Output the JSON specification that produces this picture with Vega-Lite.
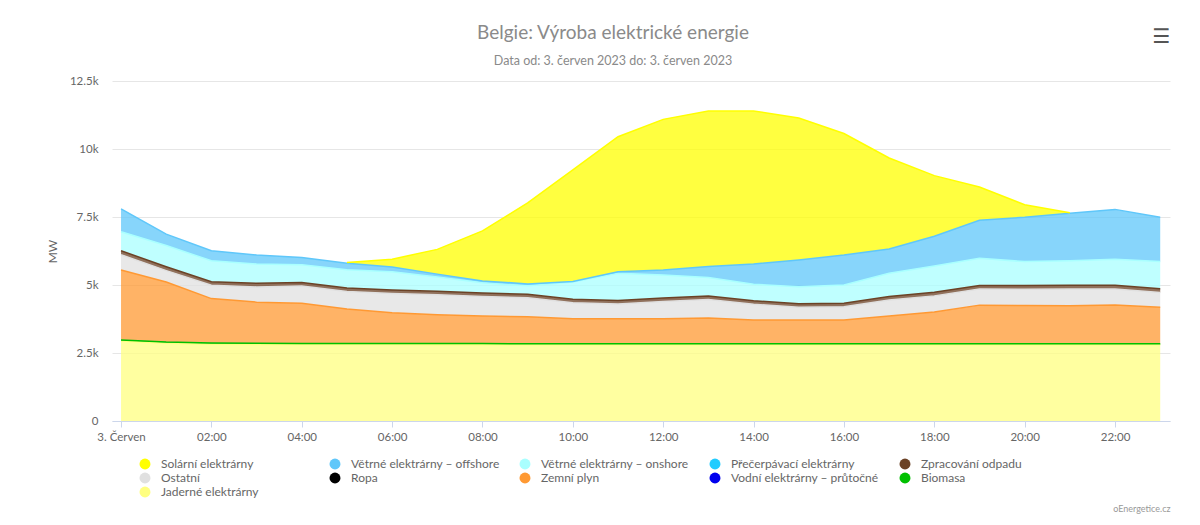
{
  "$schema": "https://vega.github.io/schema/vega-lite/v6.json",
  "width": 1058,
  "height": 340,
  "autosize": {"type": "none"},
  "padding": {"left": 112, "top": 81, "right": 30, "bottom": 104},
  "background": "#ffffff",
  "config": {"view": {"stroke": null}},
  "title": {
    "text": "Belgie: Výroba elektrické energie",
    "subtitle": "Data od: 3. červen 2023 do: 3. červen 2023",
    "anchor": "middle",
    "dx": -28,
    "offset": -41,
    "font": "Lato",
    "fontSize": 19,
    "fontWeight": "normal",
    "color": "#8a8a8a",
    "subtitleFont": "Lato",
    "subtitleFontSize": 12.5,
    "subtitleColor": "#8a8a8a",
    "subtitlePadding": 12
  },
  "datasets": {
    "zdroje": [
      {"zdroj": "Jaderné elektrárny", "poradi": 1},
      {"zdroj": "Biomasa", "poradi": 2},
      {"zdroj": "Vodní elektrárny – průtočné", "poradi": 3},
      {"zdroj": "Zemní plyn", "poradi": 4},
      {"zdroj": "Ropa", "poradi": 5},
      {"zdroj": "Ostatní", "poradi": 6},
      {"zdroj": "Zpracování odpadu", "poradi": 7},
      {"zdroj": "Přečerpávací elektrárny", "poradi": 8},
      {"zdroj": "Větrné elektrárny – onshore", "poradi": 9},
      {"zdroj": "Větrné elektrárny – offshore", "poradi": 10},
      {"zdroj": "Solární elektrárny", "poradi": 11}
    ],
    "vyroba": [
      {"cas": "2023-06-03T00:00", "zdroj": "Jaderné elektrárny", "mw": 2940},
      {"cas": "2023-06-03T00:00", "zdroj": "Biomasa", "mw": 40},
      {"cas": "2023-06-03T00:00", "zdroj": "Zemní plyn", "mw": 2570},
      {"cas": "2023-06-03T00:00", "zdroj": "Ostatní", "mw": 560},
      {"cas": "2023-06-03T00:00", "zdroj": "Zpracování odpadu", "mw": 150},
      {"cas": "2023-06-03T00:00", "zdroj": "Větrné elektrárny – onshore", "mw": 700},
      {"cas": "2023-06-03T00:00", "zdroj": "Větrné elektrárny – offshore", "mw": 840},
      {"cas": "2023-06-03T01:00", "zdroj": "Jaderné elektrárny", "mw": 2860},
      {"cas": "2023-06-03T01:00", "zdroj": "Biomasa", "mw": 40},
      {"cas": "2023-06-03T01:00", "zdroj": "Zemní plyn", "mw": 2210},
      {"cas": "2023-06-03T01:00", "zdroj": "Ostatní", "mw": 420},
      {"cas": "2023-06-03T01:00", "zdroj": "Zpracování odpadu", "mw": 140},
      {"cas": "2023-06-03T01:00", "zdroj": "Větrné elektrárny – onshore", "mw": 780},
      {"cas": "2023-06-03T01:00", "zdroj": "Větrné elektrárny – offshore", "mw": 420},
      {"cas": "2023-06-03T02:00", "zdroj": "Jaderné elektrárny", "mw": 2825},
      {"cas": "2023-06-03T02:00", "zdroj": "Biomasa", "mw": 40},
      {"cas": "2023-06-03T02:00", "zdroj": "Zemní plyn", "mw": 1635},
      {"cas": "2023-06-03T02:00", "zdroj": "Ostatní", "mw": 490},
      {"cas": "2023-06-03T02:00", "zdroj": "Zpracování odpadu", "mw": 130},
      {"cas": "2023-06-03T02:00", "zdroj": "Větrné elektrárny – onshore", "mw": 770},
      {"cas": "2023-06-03T02:00", "zdroj": "Větrné elektrárny – offshore", "mw": 370},
      {"cas": "2023-06-03T03:00", "zdroj": "Jaderné elektrárny", "mw": 2815},
      {"cas": "2023-06-03T03:00", "zdroj": "Biomasa", "mw": 40},
      {"cas": "2023-06-03T03:00", "zdroj": "Zemní plyn", "mw": 1515},
      {"cas": "2023-06-03T03:00", "zdroj": "Ostatní", "mw": 560},
      {"cas": "2023-06-03T03:00", "zdroj": "Zpracování odpadu", "mw": 130},
      {"cas": "2023-06-03T03:00", "zdroj": "Větrné elektrárny – onshore", "mw": 710},
      {"cas": "2023-06-03T03:00", "zdroj": "Větrné elektrárny – offshore", "mw": 330},
      {"cas": "2023-06-03T04:00", "zdroj": "Jaderné elektrárny", "mw": 2810},
      {"cas": "2023-06-03T04:00", "zdroj": "Biomasa", "mw": 40},
      {"cas": "2023-06-03T04:00", "zdroj": "Zemní plyn", "mw": 1480},
      {"cas": "2023-06-03T04:00", "zdroj": "Ostatní", "mw": 630},
      {"cas": "2023-06-03T04:00", "zdroj": "Zpracování odpadu", "mw": 130},
      {"cas": "2023-06-03T04:00", "zdroj": "Větrné elektrárny – onshore", "mw": 650},
      {"cas": "2023-06-03T04:00", "zdroj": "Větrné elektrárny – offshore", "mw": 270},
      {"cas": "2023-06-03T05:00", "zdroj": "Jaderné elektrárny", "mw": 2810},
      {"cas": "2023-06-03T05:00", "zdroj": "Biomasa", "mw": 40},
      {"cas": "2023-06-03T05:00", "zdroj": "Zemní plyn", "mw": 1270},
      {"cas": "2023-06-03T05:00", "zdroj": "Ostatní", "mw": 640},
      {"cas": "2023-06-03T05:00", "zdroj": "Zpracování odpadu", "mw": 130},
      {"cas": "2023-06-03T05:00", "zdroj": "Větrné elektrárny – onshore", "mw": 670},
      {"cas": "2023-06-03T05:00", "zdroj": "Větrné elektrárny – offshore", "mw": 240},
      {"cas": "2023-06-03T05:00", "zdroj": "Solární elektrárny", "mw": 30},
      {"cas": "2023-06-03T06:00", "zdroj": "Jaderné elektrárny", "mw": 2810},
      {"cas": "2023-06-03T06:00", "zdroj": "Biomasa", "mw": 40},
      {"cas": "2023-06-03T06:00", "zdroj": "Zemní plyn", "mw": 1130},
      {"cas": "2023-06-03T06:00", "zdroj": "Ostatní", "mw": 710},
      {"cas": "2023-06-03T06:00", "zdroj": "Zpracování odpadu", "mw": 130},
      {"cas": "2023-06-03T06:00", "zdroj": "Větrné elektrárny – onshore", "mw": 670},
      {"cas": "2023-06-03T06:00", "zdroj": "Větrné elektrárny – offshore", "mw": 170},
      {"cas": "2023-06-03T06:00", "zdroj": "Solární elektrárny", "mw": 290},
      {"cas": "2023-06-03T07:00", "zdroj": "Jaderné elektrárny", "mw": 2805},
      {"cas": "2023-06-03T07:00", "zdroj": "Biomasa", "mw": 40},
      {"cas": "2023-06-03T07:00", "zdroj": "Zemní plyn", "mw": 1065},
      {"cas": "2023-06-03T07:00", "zdroj": "Ostatní", "mw": 730},
      {"cas": "2023-06-03T07:00", "zdroj": "Zpracování odpadu", "mw": 130},
      {"cas": "2023-06-03T07:00", "zdroj": "Větrné elektrárny – onshore", "mw": 520},
      {"cas": "2023-06-03T07:00", "zdroj": "Větrné elektrárny – offshore", "mw": 110},
      {"cas": "2023-06-03T07:00", "zdroj": "Solární elektrárny", "mw": 910},
      {"cas": "2023-06-03T08:00", "zdroj": "Jaderné elektrárny", "mw": 2805},
      {"cas": "2023-06-03T08:00", "zdroj": "Biomasa", "mw": 40},
      {"cas": "2023-06-03T08:00", "zdroj": "Zemní plyn", "mw": 1015},
      {"cas": "2023-06-03T08:00", "zdroj": "Ostatní", "mw": 720},
      {"cas": "2023-06-03T08:00", "zdroj": "Zpracování odpadu", "mw": 130},
      {"cas": "2023-06-03T08:00", "zdroj": "Větrné elektrárny – onshore", "mw": 370},
      {"cas": "2023-06-03T08:00", "zdroj": "Větrné elektrárny – offshore", "mw": 70},
      {"cas": "2023-06-03T08:00", "zdroj": "Solární elektrárny", "mw": 1840},
      {"cas": "2023-06-03T09:00", "zdroj": "Jaderné elektrárny", "mw": 2800},
      {"cas": "2023-06-03T09:00", "zdroj": "Biomasa", "mw": 40},
      {"cas": "2023-06-03T09:00", "zdroj": "Zemní plyn", "mw": 990},
      {"cas": "2023-06-03T09:00", "zdroj": "Ostatní", "mw": 700},
      {"cas": "2023-06-03T09:00", "zdroj": "Zpracování odpadu", "mw": 130},
      {"cas": "2023-06-03T09:00", "zdroj": "Větrné elektrárny – onshore", "mw": 310},
      {"cas": "2023-06-03T09:00", "zdroj": "Větrné elektrárny – offshore", "mw": 70},
      {"cas": "2023-06-03T09:00", "zdroj": "Solární elektrárny", "mw": 2980},
      {"cas": "2023-06-03T10:00", "zdroj": "Jaderné elektrárny", "mw": 2800},
      {"cas": "2023-06-03T10:00", "zdroj": "Biomasa", "mw": 40},
      {"cas": "2023-06-03T10:00", "zdroj": "Zemní plyn", "mw": 920},
      {"cas": "2023-06-03T10:00", "zdroj": "Ostatní", "mw": 590},
      {"cas": "2023-06-03T10:00", "zdroj": "Zpracování odpadu", "mw": 130},
      {"cas": "2023-06-03T10:00", "zdroj": "Větrné elektrárny – onshore", "mw": 630},
      {"cas": "2023-06-03T10:00", "zdroj": "Větrné elektrárny – offshore", "mw": 20},
      {"cas": "2023-06-03T10:00", "zdroj": "Solární elektrárny", "mw": 4100},
      {"cas": "2023-06-03T11:00", "zdroj": "Jaderné elektrárny", "mw": 2800},
      {"cas": "2023-06-03T11:00", "zdroj": "Biomasa", "mw": 40},
      {"cas": "2023-06-03T11:00", "zdroj": "Zemní plyn", "mw": 920},
      {"cas": "2023-06-03T11:00", "zdroj": "Ostatní", "mw": 540},
      {"cas": "2023-06-03T11:00", "zdroj": "Zpracování odpadu", "mw": 130},
      {"cas": "2023-06-03T11:00", "zdroj": "Větrné elektrárny – onshore", "mw": 1000},
      {"cas": "2023-06-03T11:00", "zdroj": "Větrné elektrárny – offshore", "mw": 60},
      {"cas": "2023-06-03T11:00", "zdroj": "Solární elektrárny", "mw": 4960},
      {"cas": "2023-06-03T12:00", "zdroj": "Jaderné elektrárny", "mw": 2800},
      {"cas": "2023-06-03T12:00", "zdroj": "Biomasa", "mw": 40},
      {"cas": "2023-06-03T12:00", "zdroj": "Zemní plyn", "mw": 920},
      {"cas": "2023-06-03T12:00", "zdroj": "Ostatní", "mw": 630},
      {"cas": "2023-06-03T12:00", "zdroj": "Zpracování odpadu", "mw": 130},
      {"cas": "2023-06-03T12:00", "zdroj": "Větrné elektrárny – onshore", "mw": 850},
      {"cas": "2023-06-03T12:00", "zdroj": "Větrné elektrárny – offshore", "mw": 180},
      {"cas": "2023-06-03T12:00", "zdroj": "Solární elektrárny", "mw": 5540},
      {"cas": "2023-06-03T13:00", "zdroj": "Jaderné elektrárny", "mw": 2800},
      {"cas": "2023-06-03T13:00", "zdroj": "Biomasa", "mw": 40},
      {"cas": "2023-06-03T13:00", "zdroj": "Zemní plyn", "mw": 950},
      {"cas": "2023-06-03T13:00", "zdroj": "Ostatní", "mw": 680},
      {"cas": "2023-06-03T13:00", "zdroj": "Zpracování odpadu", "mw": 130},
      {"cas": "2023-06-03T13:00", "zdroj": "Větrné elektrárny – onshore", "mw": 680},
      {"cas": "2023-06-03T13:00", "zdroj": "Větrné elektrárny – offshore", "mw": 400},
      {"cas": "2023-06-03T13:00", "zdroj": "Solární elektrárny", "mw": 5720},
      {"cas": "2023-06-03T14:00", "zdroj": "Jaderné elektrárny", "mw": 2800},
      {"cas": "2023-06-03T14:00", "zdroj": "Biomasa", "mw": 40},
      {"cas": "2023-06-03T14:00", "zdroj": "Zemní plyn", "mw": 870},
      {"cas": "2023-06-03T14:00", "zdroj": "Ostatní", "mw": 580},
      {"cas": "2023-06-03T14:00", "zdroj": "Zpracování odpadu", "mw": 130},
      {"cas": "2023-06-03T14:00", "zdroj": "Větrné elektrárny – onshore", "mw": 610},
      {"cas": "2023-06-03T14:00", "zdroj": "Větrné elektrárny – offshore", "mw": 740},
      {"cas": "2023-06-03T14:00", "zdroj": "Solární elektrárny", "mw": 5630},
      {"cas": "2023-06-03T15:00", "zdroj": "Jaderné elektrárny", "mw": 2800},
      {"cas": "2023-06-03T15:00", "zdroj": "Biomasa", "mw": 40},
      {"cas": "2023-06-03T15:00", "zdroj": "Zemní plyn", "mw": 870},
      {"cas": "2023-06-03T15:00", "zdroj": "Ostatní", "mw": 470},
      {"cas": "2023-06-03T15:00", "zdroj": "Zpracování odpadu", "mw": 130},
      {"cas": "2023-06-03T15:00", "zdroj": "Větrné elektrárny – onshore", "mw": 630},
      {"cas": "2023-06-03T15:00", "zdroj": "Větrné elektrárny – offshore", "mw": 980},
      {"cas": "2023-06-03T15:00", "zdroj": "Solární elektrárny", "mw": 5220},
      {"cas": "2023-06-03T16:00", "zdroj": "Jaderné elektrárny", "mw": 2800},
      {"cas": "2023-06-03T16:00", "zdroj": "Biomasa", "mw": 40},
      {"cas": "2023-06-03T16:00", "zdroj": "Zemní plyn", "mw": 870},
      {"cas": "2023-06-03T16:00", "zdroj": "Ostatní", "mw": 490},
      {"cas": "2023-06-03T16:00", "zdroj": "Zpracování odpadu", "mw": 130},
      {"cas": "2023-06-03T16:00", "zdroj": "Větrné elektrárny – onshore", "mw": 670},
      {"cas": "2023-06-03T16:00", "zdroj": "Větrné elektrárny – offshore", "mw": 1100},
      {"cas": "2023-06-03T16:00", "zdroj": "Solární elektrárny", "mw": 4470},
      {"cas": "2023-06-03T17:00", "zdroj": "Jaderné elektrárny", "mw": 2800},
      {"cas": "2023-06-03T17:00", "zdroj": "Biomasa", "mw": 40},
      {"cas": "2023-06-03T17:00", "zdroj": "Zemní plyn", "mw": 1020},
      {"cas": "2023-06-03T17:00", "zdroj": "Ostatní", "mw": 590},
      {"cas": "2023-06-03T17:00", "zdroj": "Zpracování odpadu", "mw": 130},
      {"cas": "2023-06-03T17:00", "zdroj": "Větrné elektrárny – onshore", "mw": 850},
      {"cas": "2023-06-03T17:00", "zdroj": "Větrné elektrárny – offshore", "mw": 890},
      {"cas": "2023-06-03T17:00", "zdroj": "Solární elektrárny", "mw": 3350},
      {"cas": "2023-06-03T18:00", "zdroj": "Jaderné elektrárny", "mw": 2800},
      {"cas": "2023-06-03T18:00", "zdroj": "Biomasa", "mw": 40},
      {"cas": "2023-06-03T18:00", "zdroj": "Zemní plyn", "mw": 1170},
      {"cas": "2023-06-03T18:00", "zdroj": "Ostatní", "mw": 590},
      {"cas": "2023-06-03T18:00", "zdroj": "Zpracování odpadu", "mw": 130},
      {"cas": "2023-06-03T18:00", "zdroj": "Větrné elektrárny – onshore", "mw": 970},
      {"cas": "2023-06-03T18:00", "zdroj": "Větrné elektrárny – offshore", "mw": 1090},
      {"cas": "2023-06-03T18:00", "zdroj": "Solární elektrárny", "mw": 2230},
      {"cas": "2023-06-03T19:00", "zdroj": "Jaderné elektrárny", "mw": 2800},
      {"cas": "2023-06-03T19:00", "zdroj": "Biomasa", "mw": 40},
      {"cas": "2023-06-03T19:00", "zdroj": "Zemní plyn", "mw": 1420},
      {"cas": "2023-06-03T19:00", "zdroj": "Ostatní", "mw": 590},
      {"cas": "2023-06-03T19:00", "zdroj": "Zpracování odpadu", "mw": 130},
      {"cas": "2023-06-03T19:00", "zdroj": "Větrné elektrárny – onshore", "mw": 1000},
      {"cas": "2023-06-03T19:00", "zdroj": "Větrné elektrárny – offshore", "mw": 1400},
      {"cas": "2023-06-03T19:00", "zdroj": "Solární elektrárny", "mw": 1220},
      {"cas": "2023-06-03T20:00", "zdroj": "Jaderné elektrárny", "mw": 2800},
      {"cas": "2023-06-03T20:00", "zdroj": "Biomasa", "mw": 40},
      {"cas": "2023-06-03T20:00", "zdroj": "Zemní plyn", "mw": 1405},
      {"cas": "2023-06-03T20:00", "zdroj": "Ostatní", "mw": 600},
      {"cas": "2023-06-03T20:00", "zdroj": "Zpracování odpadu", "mw": 140},
      {"cas": "2023-06-03T20:00", "zdroj": "Větrné elektrárny – onshore", "mw": 875},
      {"cas": "2023-06-03T20:00", "zdroj": "Větrné elektrárny – offshore", "mw": 1630},
      {"cas": "2023-06-03T20:00", "zdroj": "Solární elektrárny", "mw": 460},
      {"cas": "2023-06-03T21:00", "zdroj": "Jaderné elektrárny", "mw": 2800},
      {"cas": "2023-06-03T21:00", "zdroj": "Biomasa", "mw": 40},
      {"cas": "2023-06-03T21:00", "zdroj": "Zemní plyn", "mw": 1400},
      {"cas": "2023-06-03T21:00", "zdroj": "Ostatní", "mw": 610},
      {"cas": "2023-06-03T21:00", "zdroj": "Zpracování odpadu", "mw": 140},
      {"cas": "2023-06-03T21:00", "zdroj": "Větrné elektrárny – onshore", "mw": 900},
      {"cas": "2023-06-03T21:00", "zdroj": "Větrné elektrárny – offshore", "mw": 1750},
      {"cas": "2023-06-03T21:00", "zdroj": "Solární elektrárny", "mw": 20},
      {"cas": "2023-06-03T22:00", "zdroj": "Jaderné elektrárny", "mw": 2800},
      {"cas": "2023-06-03T22:00", "zdroj": "Biomasa", "mw": 40},
      {"cas": "2023-06-03T22:00", "zdroj": "Zemní plyn", "mw": 1425},
      {"cas": "2023-06-03T22:00", "zdroj": "Ostatní", "mw": 585},
      {"cas": "2023-06-03T22:00", "zdroj": "Zpracování odpadu", "mw": 140},
      {"cas": "2023-06-03T22:00", "zdroj": "Větrné elektrárny – onshore", "mw": 955},
      {"cas": "2023-06-03T22:00", "zdroj": "Větrné elektrárny – offshore", "mw": 1835},
      {"cas": "2023-06-03T23:00", "zdroj": "Jaderné elektrárny", "mw": 2800},
      {"cas": "2023-06-03T23:00", "zdroj": "Biomasa", "mw": 40},
      {"cas": "2023-06-03T23:00", "zdroj": "Zemní plyn", "mw": 1340},
      {"cas": "2023-06-03T23:00", "zdroj": "Ostatní", "mw": 540},
      {"cas": "2023-06-03T23:00", "zdroj": "Zpracování odpadu", "mw": 140},
      {"cas": "2023-06-03T23:00", "zdroj": "Větrné elektrárny – onshore", "mw": 1000},
      {"cas": "2023-06-03T23:00", "zdroj": "Větrné elektrárny – offshore", "mw": 1630}
    ]
  },
  "data": {"name": "vyroba"},
  "transform": [
    {"lookup": "zdroj", "from": {"data": {"name": "zdroje"}, "key": "zdroj", "fields": ["poradi"]}},
    {"stack": "mw", "groupby": ["cas"], "sort": [{"field": "poradi", "order": "ascending"}], "as": ["y0", "y1"]}
  ],
  "resolve": {"axis": {"x": "independent"}},
  "layer": [
    {
      "mark": {"type": "area", "fillOpacity": 0.75, "interpolate": "linear"},
      "encoding": {
        "x": {
          "field": "cas",
          "type": "temporal",
          "scale": {
            "domain": [
              {"year": 2023, "month": 6, "date": 2, "hours": 23, "minutes": 48},
              {"year": 2023, "month": 6, "date": 3, "hours": 23, "minutes": 13}
            ]
          },
          "axis": {
            "title": "oEnergetice.cz",
            "titleAnchor": "end",
            "titleFont": "Lato",
            "titleFontSize": 9,
            "titleFontWeight": "normal",
            "titleColor": "#999999",
            "titlePadding": 62,
            "values": [
              {"year": 2023, "month": 6, "date": 3, "hours": 0},
              {"year": 2023, "month": 6, "date": 3, "hours": 2},
              {"year": 2023, "month": 6, "date": 3, "hours": 4},
              {"year": 2023, "month": 6, "date": 3, "hours": 6},
              {"year": 2023, "month": 6, "date": 3, "hours": 8},
              {"year": 2023, "month": 6, "date": 3, "hours": 10},
              {"year": 2023, "month": 6, "date": 3, "hours": 12},
              {"year": 2023, "month": 6, "date": 3, "hours": 14},
              {"year": 2023, "month": 6, "date": 3, "hours": 16},
              {"year": 2023, "month": 6, "date": 3, "hours": 18},
              {"year": 2023, "month": 6, "date": 3, "hours": 20},
              {"year": 2023, "month": 6, "date": 3, "hours": 22}
            ],
            "format": "%H:%M",
            "labelExpr": "datum.label == '00:00' ? '3. Červen' : datum.label",
            "grid": false,
            "domainColor": "#ccd6eb",
            "tickColor": "#ccd6eb",
            "tickSize": 6,
            "labelColor": "#666666",
            "labelFont": "Lato",
            "labelFontSize": 11.5,
            "labelPadding": 4,
            "labelFlush": false,
            "labelOverlap": false
          }
        },
        "y": {
          "field": "y1",
          "type": "quantitative",
          "scale": {"domain": [0, 12500], "nice": false},
          "axis": {
            "title": "MW",
            "values": [0, 2500, 5000, 7500, 10000, 12500],
            "labelExpr": "datum.value == 0 ? '0' : format(datum.value / 1000, '~g') + 'k'",
            "domain": false,
            "ticks": false,
            "gridColor": "#e6e6e6",
            "labelColor": "#666666",
            "labelFont": "Lato",
            "labelFontSize": 11.5,
            "labelPadding": 14,
            "titleColor": "#666666",
            "titleFont": "Lato",
            "titleFontSize": 12,
            "titleFontWeight": "normal",
            "titlePadding": 10
          }
        },
        "y2": {"field": "y0"},
        "color": {
          "field": "zdroj",
          "type": "nominal",
          "scale": {
            "domain": [
              "Solární elektrárny",
              "Větrné elektrárny – offshore",
              "Větrné elektrárny – onshore",
              "Přečerpávací elektrárny",
              "Zpracování odpadu",
              "Ostatní",
              "Ropa",
              "Zemní plyn",
              "Vodní elektrárny – průtočné",
              "Biomasa",
              "Jaderné elektrárny"
            ],
            "range": [
              "#ffff00",
              "#5fc7fa",
              "#a9ffff",
              "#22ccff",
              "#6b4226",
              "#e0e0e0",
              "#000000",
              "#ff9933",
              "#0000ee",
              "#00c000",
              "#ffff80"
            ]
          },
          "legend": {
            "title": null,
            "orient": "none",
            "legendX": 27,
            "legendY": 377,
            "direction": "horizontal",
            "columns": 5,
            "gridAlign": "all",
            "columnPadding": 19,
            "rowPadding": 2,
            "symbolType": "circle",
            "symbolSize": 120,
            "symbolOpacity": 1,
            "symbolStrokeWidth": 0,
            "labelFont": "Lato",
            "labelFontSize": 12,
            "labelColor": "#666666",
            "labelLimit": 260,
            "labelOffset": 10
          }
        }
      }
    },
    {
      "mark": {"type": "line", "strokeWidth": 1.5, "interpolate": "linear"},
      "encoding": {
        "x": {
          "field": "cas",
          "type": "temporal",
          "axis": {
            "orient": "top",
            "title": "☰",
            "titleAnchor": "end",
            "titleFont": "DejaVu Sans",
            "titleFontSize": 20,
            "titleFontWeight": "bold",
            "titleColor": "#555555",
            "titlePadding": 35,
            "labels": false,
            "ticks": false,
            "domain": false,
            "grid": false
          }
        },
        "y": {"field": "y1", "type": "quantitative"},
        "color": {"field": "zdroj", "type": "nominal", "legend": null}
      }
    }
  ]
}
